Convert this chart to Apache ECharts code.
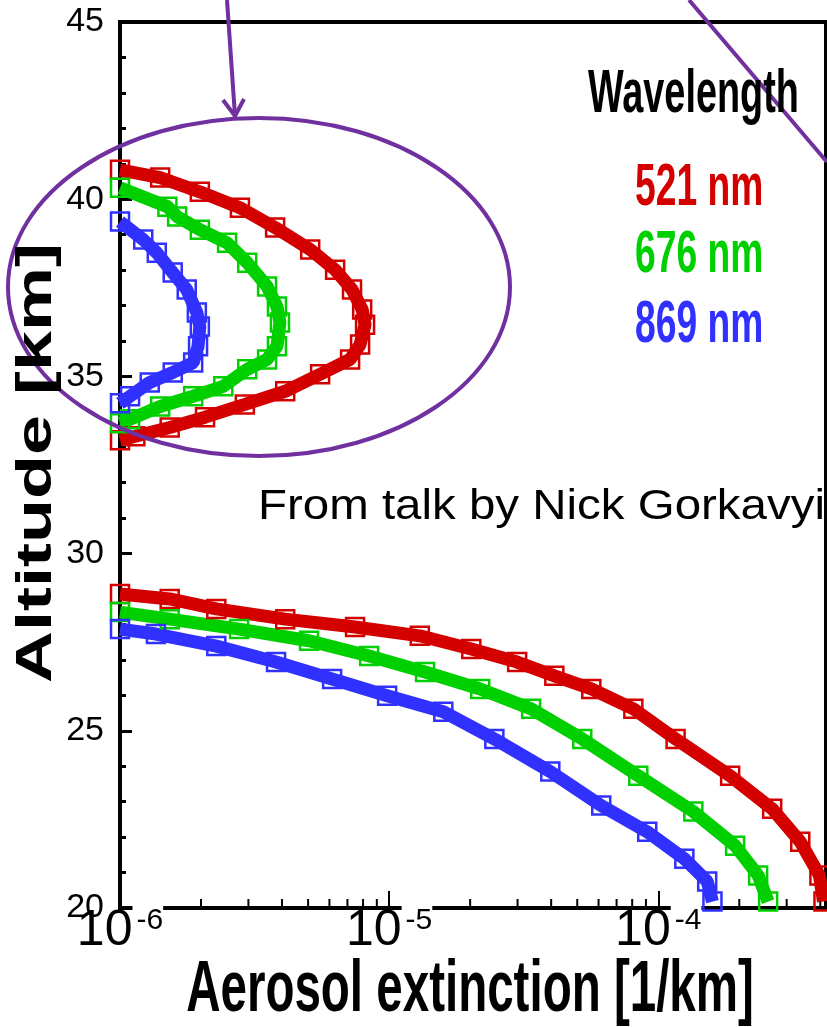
<!DOCTYPE html>
<html>
<head>
<meta charset="utf-8">
<script src="https://cdn.jsdelivr.net/npm/echarts@6/dist/echarts.min.js"></script>
<style>
html,body{margin:0;padding:0;background:#fff;}
#main{width:827px;height:1027px;}
</style>
</head>
<body>
<div id="main"></div>
<script>
// [extinction 1/km, altitude km]
var red521Upper = [[1.0e-6,40.83],[1.41e-6,40.61],[1.98e-6,40.21],[2.79e-6,39.76],[3.77e-6,39.20],[5.09e-6,38.58],[6.30e-6,38.01],[7.28e-6,37.45],[7.94e-6,36.89],[8.14e-6,36.46],[7.80e-6,35.90],[7.16e-6,35.48],[5.54e-6,35.06],[4.11e-6,34.58],[2.91e-6,34.21],[2.07e-6,33.85],[1.53e-6,33.56],[1.14e-6,33.31],[1.0e-6,33.20]];
var green676Upper = [[1.0e-6,40.32],[1.50e-6,39.79],[1.63e-6,39.51],[1.98e-6,39.14],[2.50e-6,38.77],[2.97e-6,38.21],[3.52e-6,37.54],[3.83e-6,36.97],[3.93e-6,36.52],[3.83e-6,35.85],[3.52e-6,35.48],[2.97e-6,35.20],[2.42e-6,34.72],[1.87e-6,34.44],[1.41e-6,34.15],[1.09e-6,33.79],[1.0e-6,33.68]];
var blue869Upper = [[1.0e-6,39.37],[1.22e-6,38.86],[1.37e-6,38.49],[1.57e-6,37.93],[1.77e-6,37.45],[1.93e-6,36.80],[1.98e-6,36.41],[1.95e-6,35.85],[1.87e-6,35.39],[1.57e-6,35.11],[1.29e-6,34.83],[1.09e-6,34.44],[1.0e-6,34.24]];
var red521Lower = [[1.0e-6,28.86],[1.53e-6,28.72],[2.28e-6,28.44],[4.11e-6,28.15],[7.47e-6,27.93],[1.30e-5,27.68],[2.02e-5,27.31],[2.99e-5,26.94],[4.11e-5,26.55],[5.64e-5,26.18],[8.08e-5,25.62],[1.16e-4,24.77],[1.85e-4,23.73],[2.65e-4,22.80],[3.37e-4,21.87],[3.97e-4,20.92],[4.11e-4,20.18]];
var green676Lower = [[1.0e-6,28.35],[1.53e-6,28.15],[2.77e-6,27.87],[5.04e-6,27.54],[8.43e-6,27.11],[1.36e-5,26.66],[2.18e-5,26.18],[3.37e-5,25.62],[5.22e-5,24.77],[8.43e-5,23.73],[1.35e-4,22.72],[1.93e-4,21.76],[2.35e-4,20.92],[2.56e-4,20.18]];
var blue869Lower = [[1.0e-6,27.87],[1.36e-6,27.73],[2.28e-6,27.39],[3.80e-6,26.94],[6.14e-6,26.46],[9.83e-6,25.99],[1.59e-5,25.54],[2.46e-5,24.77],[3.97e-5,23.85],[6.14e-5,22.89],[9.10e-5,22.15],[1.25e-4,21.39],[1.52e-4,20.75],[1.59e-4,20.18]];

var wavelengths = ['521 nm','676 nm','869 nm'];
var xMinorTicks = [2e-6,3e-6,4e-6,5e-6,6e-6,7e-6,8e-6,9e-6,2e-5,3e-5,4e-5,5e-5,6e-5,7e-5,8e-5,9e-5,2e-4,3e-4,4e-4];

var RED='#d40000', GREEN='#00d000', BLUE='#3030ff', PURPLE='#7030a0';
var NARROW='"Liberation Sans Narrow","Arial Narrow",sans-serif';
var SANS='"Liberation Sans",Arial,sans-serif';

function curve(data,color){
	return {
		type:'line',
		data:data,
		symbol:'rect',
		symbolSize:18,
		showAllSymbol:true,
		clip:true,
		lineStyle:{color:color,width:13},
		itemStyle:{color:'rgba(255,255,255,0)',borderColor:color,borderWidth:2.5},
		emphasis:{disabled:true},
		z:3
	};
}

function boldText(txt,x,y,size,color,sx,align){
	return {
		type:'text',x:x,y:y,scaleX:sx,z:100,
		style:{text:txt,fill:color,font:'bold '+size+'px '+SANS,textAlign:align||'left',textVerticalAlign:'middle'}
	};
}

var myChart=echarts.init(document.getElementById('main'));
myChart.setOption({
	animation:false,
	backgroundColor:'#fff',
	grid:{left:120,right:1,top:22,bottom:119,show:true,borderColor:'#000',borderWidth:4,backgroundColor:'transparent'},
	xAxis:{
		type:'log',
		min:1e-6,
		max:4.2e-4,
		logBase:10,
		axisLine:{lineStyle:{color:'#000',width:4}},
		axisTick:{inside:true,length:17,lineStyle:{color:'#000',width:2}},
		splitLine:{show:false},
		axisLabel:{
			margin:-2,
			showMaxLabel:false,
			formatter:function(v){
				var l=Math.log10(v), e=Math.round(l);
				if(Math.abs(l-e)>0.01){return '';}
				return '{b|10}{s|'+e+'}';
			},
			rich:{
				b:{fontSize:50,lineHeight:50,fontFamily:NARROW,color:'#000'},
				s:{fontSize:30,lineHeight:30,fontFamily:NARROW,color:'#000',verticalAlign:'top',padding:[0,0,0,4],backgroundColor:'#fff'}
			}
		}
	},
	yAxis:{
		type:'value',
		min:20,
		max:45,
		interval:5,
		axisLine:{lineStyle:{color:'#000',width:3}},
		axisTick:{inside:true,length:12,lineStyle:{color:'#000',width:3}},
		minorTick:{show:true,splitNumber:5,length:6,lineStyle:{color:'#000',width:3}},
		splitLine:{show:false},
		axisLabel:{margin:16,fontSize:34,fontFamily:NARROW,color:'#000'}
	},
	series:[
		curve(red521Upper,RED),
		curve(green676Upper,GREEN),
		curve(blue869Upper,BLUE),
		curve(red521Lower,RED),
		curve(green676Lower,GREEN),
		curve(blue869Lower,BLUE),
		{
			type:'custom',
			data:xMinorTicks.map(function(v){return [v,20];}),
			silent:true,
			z:2,
			renderItem:function(params,api){
				var p=api.coord([api.value(0),api.value(1)]);
				return {type:'line',shape:{x1:p[0],y1:p[1],x2:p[0],y2:p[1]-9},style:{stroke:'#000',lineWidth:2}};
			}
		}
	],
	graphic:[
		{type:'ellipse',z:100,shape:{cx:259,cy:287,rx:251,ry:169},style:{fill:null,stroke:PURPLE,lineWidth:4}},
		{type:'polyline',z:100,shape:{points:[[227,0],[235,116]]},style:{stroke:PURPLE,lineWidth:4,fill:null}},
		{type:'polyline',z:100,shape:{points:[[223,100],[235,116],[244,99]]},style:{stroke:PURPLE,lineWidth:4,fill:null}},
		{type:'polyline',z:100,shape:{points:[[689,0],[827,162]]},style:{stroke:PURPLE,lineWidth:4,fill:null}},
		boldText('Wavelength',588,95,61,'#000',0.62),
		boldText(wavelengths[0],635,188,60,RED,0.62),
		boldText(wavelengths[1],635,255,60,GREEN,0.62),
		boldText(wavelengths[2],635,325,60,BLUE,0.62),
		{type:'text',x:258,y:507,scaleX:1.13,z:100,style:{text:'From talk by Nick Gorkavyi',fill:'#000',font:'42px '+SANS,textAlign:'left',textVerticalAlign:'middle'}},
		boldText('Aerosol extinction [1/km]',470,991,72,'#000',0.66,'center'),
		{type:'text',x:37,y:463,rotation:Math.PI/2,scaleY:0.7,z:100,style:{text:'Altitude [km]',fill:'#000',font:'bold 72px '+SANS,textAlign:'center',textVerticalAlign:'middle'}}
	]
});
</script>
</body>
</html>
